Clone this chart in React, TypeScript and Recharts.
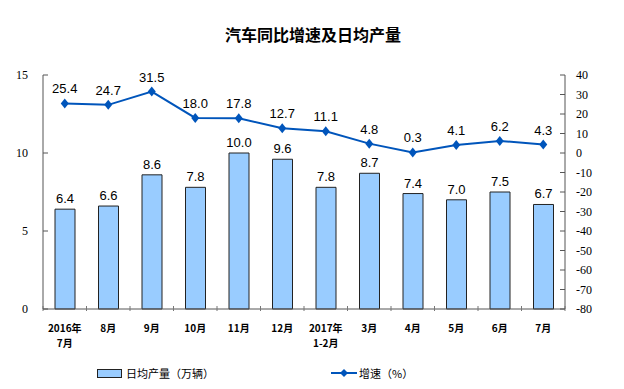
import React from "react";
import {
  Bar,
  ComposedChart,
  LabelList,
  Line,
  XAxis,
  YAxis,
} from "recharts";

const months = ["2016年|7月", "8月", "9月", "10月", "11月", "12月", "2017年|1-2月", "3月", "4月", "5月", "6月", "7月"];
const dailyOutput = [6.4, 6.6, 8.6, 7.8, 10.0, 9.6, 7.8, 8.7, 7.4, 7.0, 7.5, 6.7];
const growth = [25.4, 24.7, 31.5, 18.0, 17.8, 12.7, 11.1, 4.8, 0.3, 4.1, 6.2, 4.3];
const leftTicks = [0, 5, 10, 15];
const rightTicks = [-80, -70, -60, -50, -40, -30, -20, -10, 0, 10, 20, 30, 40];

const rows = months.map((m, i) => ({ month: m, output: dailyOutput[i], growth: growth[i] }));

const W = 624;
const H = 389;
const LEFT_W = 43;
const RIGHT_W = 59;
const band = (W - LEFT_W - RIGHT_W) / months.length;
const serif = { fontFamily: "'Liberation Serif', 'DejaVu Serif', serif", fontSize: 12 };

const LeftTick = (props) => {
  const { x, y, payload } = props;
  return (
    <g>
      <line x1={x + 15} x2={x + 20} y1={y} y2={y} stroke="#555" />
      <text x={x} y={y} dy={4} textAnchor="end" style={serif} fill="#000">
        {payload.value}
      </text>
    </g>
  );
};

const RightTick = (props) => {
  const { x, y, payload } = props;
  return (
    <g>
      <line x1={x - 11} x2={x - 16} y1={y} y2={y} stroke="#555" />
      <text x={x} y={y} dy={4} textAnchor="start" style={serif} fill="#000">
        {payload.value}
      </text>
    </g>
  );
};

const MonthTick = (props) => {
  const { x, y, payload, index } = props;
  const parts = String(payload.value).split("|");
  const axisY = y;
  return (
    <g>
      <line x1={x - band / 2} x2={x - band / 2} y1={axisY} y2={axisY - 5} stroke="#777" />
      {index === months.length - 1 && (
        <line x1={x + band / 2} x2={x + band / 2} y1={axisY} y2={axisY - 5} stroke="#777" />
      )}
      {parts.map((p, i) => (
        <text
          key={i}
          x={x}
          y={axisY + 21 + i * 15}
          textAnchor="middle"
          fontSize={10}
          fontWeight="bold"
          fontFamily="Noto Sans CJK SC"
          fill="#000"
        >
          {p}
        </text>
      ))}
    </g>
  );
};

export default function App() {
  return (
    <div style={{ position: "absolute", left: 0, top: 0, width: W, height: H, background: "#fff" }}>
      <div
        style={{
          position: "absolute",
          top: 22,
          width: W,
          textAlign: "center",
          fontFamily: "Noto Sans CJK SC",
          fontWeight: "bold",
          fontSize: 16,
          left: 1,
        }}
      >
        汽车同比增速及日均产量
      </div>
      <ComposedChart
        width={W}
        height={H}
        data={rows}
        margin={{ top: 75, right: 0, bottom: 30, left: 0 }}
      >
        <XAxis
          dataKey="month"
          interval={0}
          height={50}
          stroke="#555"
          tickLine={false}
          tickSize={0}
          tick={<MonthTick />}
        />
        <YAxis
          yAxisId="left"
          width={LEFT_W}
          domain={[0, 15]}
          ticks={leftTicks}
          interval={0}
          stroke="#555"
          tickLine={false}
          tickSize={0}
          tickMargin={15}
          tick={<LeftTick />}
        />
        <YAxis
          yAxisId="right"
          orientation="right"
          width={RIGHT_W}
          domain={[-80, 40]}
          ticks={rightTicks}
          interval={0}
          stroke="#555"
          tickLine={false}
          tickSize={0}
          tickMargin={11}
          tick={<RightTick />}
        />
        <Bar
          yAxisId="left"
          dataKey="output"
          barSize={20}
          fill="#99CCFF"
          stroke="#222"
          strokeWidth={1}
          isAnimationActive={false}
        >
          <LabelList
            dataKey="output"
            position="top"
            offset={6}
            formatter={(v) => Number(v).toFixed(1)}
            style={{ fontSize: 13, fontFamily: "Liberation Sans", fill: "#000" }}
          />
        </Bar>
        <Line
          yAxisId="right"
          dataKey="growth"
          stroke="#0055BB"
          strokeWidth={2}
          isAnimationActive={false}
          dot={(p) => (
            <path
              key={p.index}
              d={`M${p.cx},${p.cy - 5}L${p.cx + 4},${p.cy}L${p.cx},${p.cy + 5}L${p.cx - 4},${p.cy}Z`}
              fill="#0055BB"
            />
          )}
        >
          <LabelList
            dataKey="growth"
            position="top"
            offset={10}
            formatter={(v) => Number(v).toFixed(1)}
            style={{ fontSize: 13, fontFamily: "Liberation Sans", fill: "#000" }}
          />
        </Line>
      </ComposedChart>
      <div
        style={{
          position: "absolute",
          top: 365,
          left: 97,
          display: "flex",
          alignItems: "center",
          fontFamily: "Noto Sans CJK SC",
          fontSize: 11,
        }}
      >
        <span style={{ display: "inline-block", width: 23, height: 7, background: "#99CCFF", border: "1px solid #222", marginRight: 4 }} />
        <span>日均产量（万辆）</span>
        <svg width={26} height={10} style={{ marginLeft: 117 }}>
          <line x1={0} x2={26} y1={5} y2={5} stroke="#0055BB" strokeWidth={2} />
          <path d="M13,1L17,5L13,9L9,5Z" fill="#0055BB" />
        </svg>
        <span style={{ marginLeft: 2 }}>增速（%）</span>
      </div>
    </div>
  );
}
